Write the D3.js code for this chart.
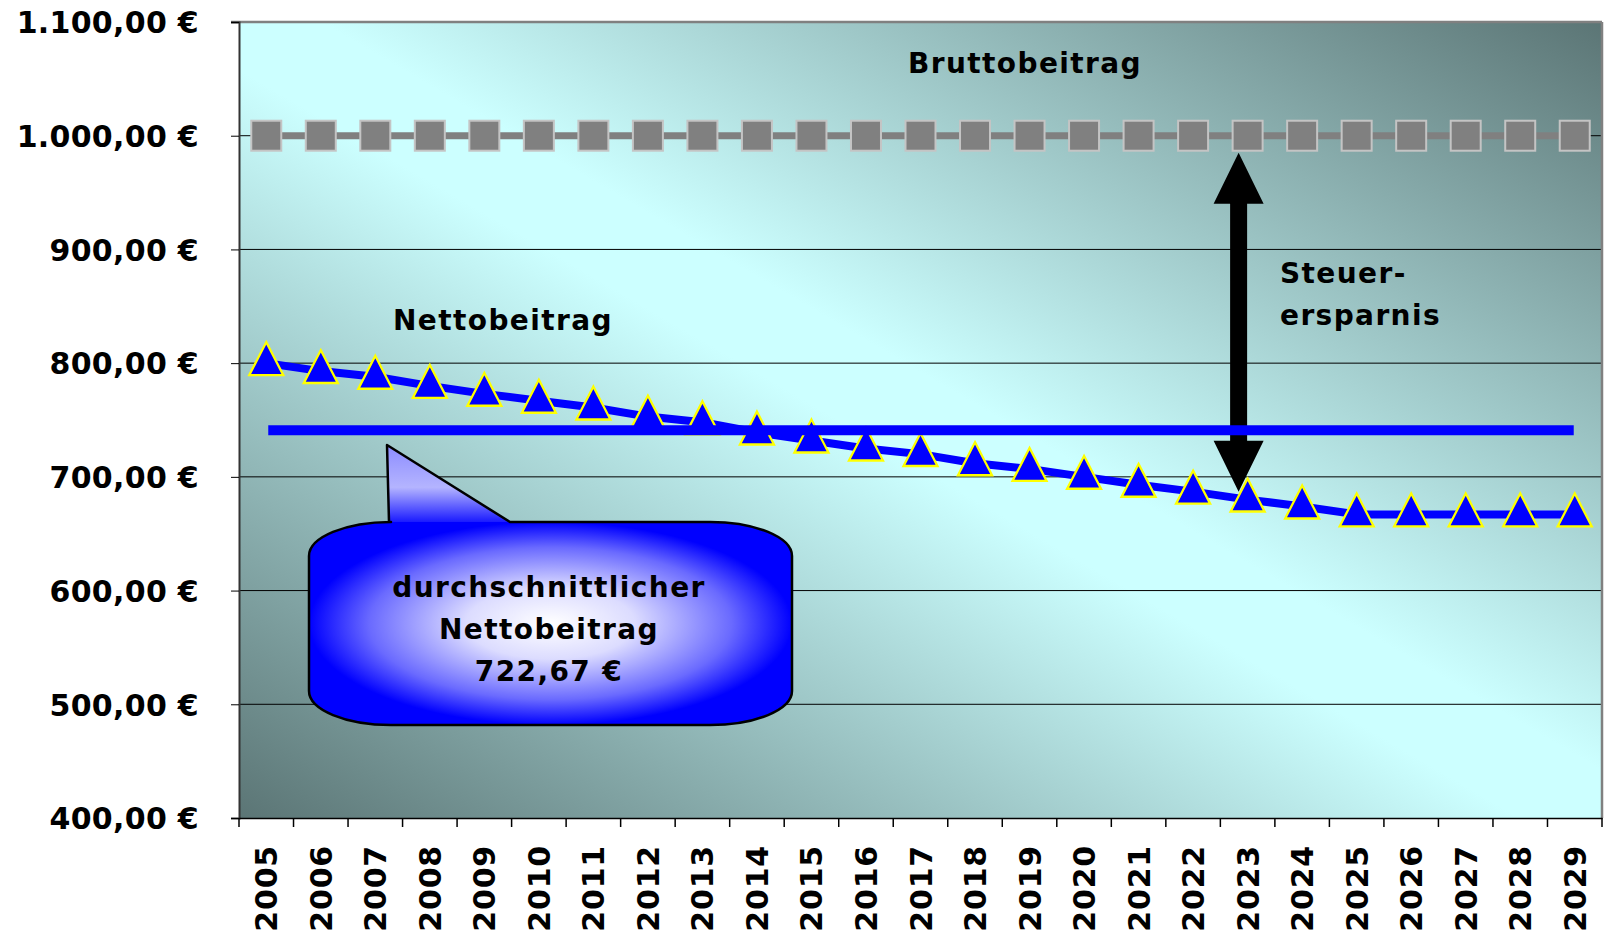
<!DOCTYPE html>
<html>
<head>
<meta charset="utf-8">
<script src="https://cdn.jsdelivr.net/npm/d3@7"></script>
<style>
  body { margin: 0; background: #ffffff; }
  svg, svg text { font-family: "DejaVu Sans", Verdana, sans-serif; font-weight: bold; }
</style>
</head>
<body>
<div id="chart"></div>
<script>

const years = ["2005","2006","2007","2008","2009","2010","2011","2012","2013","2014","2015","2016",
	"2017","2018","2019","2020","2021","2022","2023","2024","2025","2026","2027","2028","2029"];

const brutto = [1000,1000,1000,1000,1000,1000,1000,1000,1000,1000,1000,1000,
	1000,1000,1000,1000,1000,1000,1000,1000,1000,1000,1000,1000,1000];

const netto = [800,793,788,780,773,767,761,753,748,739,732,725,
	720,712,707,700,693,687,680,674,667,667,667,667,667];

const yTicks = [400,500,600,700,800,900,1000,1100];

// average shown in the bubble, and the level where the blue bar is actually drawn
const avgNetto = 722.67;
const avgLineLevel = 741;

// arrow "Steuerersparnis" runs between these two values
const arrowFrom = 985, arrowTo = 687;

const width = 1606, height = 937;
const plot = {left: 239, right: 1602, top: 22, bottom: 818};
const fontFamily = '"DejaVu Sans", Verdana, sans-serif';

const de = d3.formatLocale({decimal: ",", thousands: ".", grouping: [3], currency: ["", " €"]});
const euro = de.format("$,.2f");

const svg = d3.select("#chart").append("svg")
	.attr("width", width)
	.attr("height", height);

const defs = svg.append("defs");

const bg = defs.append("linearGradient")
	.attr("id", "bg")
	.attr("x1", 0).attr("y1", 1).attr("x2", 1).attr("y2", 0);
bg.append("stop").attr("offset", 0).attr("stop-color", "#5b7575");
bg.append("stop").attr("offset", 0.47).attr("stop-color", "#ccffff");
bg.append("stop").attr("offset", 0.53).attr("stop-color", "#ccffff");
bg.append("stop").attr("offset", 1).attr("stop-color", "#5b7575");

const bubble = defs.append("radialGradient")
	.attr("id", "bubble")
	.attr("cx", 0.5).attr("cy", 0.5).attr("r", 0.5);
bubble.append("stop").attr("offset", 0).attr("stop-color", "#ffffff");
bubble.append("stop").attr("offset", 0.35).attr("stop-color", "#dcdcff");
bubble.append("stop").attr("offset", 0.75).attr("stop-color", "#6a6aff");
bubble.append("stop").attr("offset", 1).attr("stop-color", "#0000ff");

const tail = defs.append("linearGradient")
	.attr("id", "tail")
	.attr("x1", 0).attr("y1", 0).attr("x2", 0).attr("y2", 1);
tail.append("stop").attr("offset", 0).attr("stop-color", "#8c8cff");
tail.append("stop").attr("offset", 0.55).attr("stop-color", "#b4b4ff");
tail.append("stop").attr("offset", 1).attr("stop-color", "#1a1aff");

const x = d3.scaleBand()
	.domain(years)
	.range([plot.left, plot.right])
	.padding(0);

const y = d3.scaleLinear()
	.domain([400, 1100])
	.range([plot.bottom, plot.top]);

const xc = (d) => x(d) + x.bandwidth() / 2;

// plot background
svg.append("rect")
	.attr("x", plot.left)
	.attr("y", plot.top)
	.attr("width", plot.right - plot.left)
	.attr("height", plot.bottom - plot.top)
	.style("fill", "url(#bg)");

// gridlines
svg.append("g")
	.selectAll("line")
	.data(yTicks.filter(d => d > 400 && d < 1100))
	.enter()
		.append("line")
		.attr("x1", plot.left).attr("x2", plot.right)
		.attr("y1", d => y(d)).attr("y2", d => y(d))
		.style("stroke", "#000000")
		.style("stroke-width", 1);

// frame
svg.append("line")
	.attr("x1", plot.left - 8).attr("x2", plot.right)
	.attr("y1", plot.top).attr("y2", plot.top)
	.style("stroke", "#808080").style("stroke-width", 2.5);
svg.append("line")
	.attr("x1", plot.right).attr("x2", plot.right)
	.attr("y1", plot.top).attr("y2", plot.bottom)
	.style("stroke", "#808080").style("stroke-width", 2.5);

// y axis
const yAxis = svg.append("g")
	.attr("transform", `translate(${plot.left},0)`)
	.call(d3.axisLeft(y).tickValues(yTicks).tickFormat(euro).tickSize(8).tickPadding(32))
	.attr("font-family", fontFamily);
yAxis.select(".domain").style("stroke", "#333333").style("stroke-width", 2);
yAxis.selectAll(".tick line").style("stroke", "#000000");
yAxis.selectAll("text")
	.attr("dy", "0.36em")
	.style("font-family", fontFamily)
	.style("font-size", "30px")
	.style("letter-spacing", "0.3px")
	.style("fill", "#000000");

// x axis: labels at centers, ticks on category borders
const xAxis = svg.append("g")
	.attr("transform", `translate(0,${plot.bottom})`)
	.call(d3.axisBottom(x).tickSize(0).tickSizeOuter(0))
	.attr("font-family", fontFamily);
xAxis.select(".domain").style("stroke", "#000000").style("stroke-width", 1.5);
xAxis.selectAll("text")
	.attr("transform", "rotate(-90)")
	.attr("x", -27)
	.attr("y", 11)
	.attr("dy", 0)
	.style("text-anchor", "end")
	.style("font-family", fontFamily)
	.style("font-size", "30px")
	.style("letter-spacing", "0.8px")
	.style("fill", "#000000");

xAxis.append("g")
	.selectAll("line")
	.data(years.map(d => x(d)).concat([x.range()[1]]))
	.enter()
		.append("line")
		.attr("x1", d => d).attr("x2", d => d)
		.attr("y1", 0).attr("y2", 9)
		.style("stroke", "#000000")
		.style("stroke-width", 1.5);

// Bruttobeitrag series
svg.append("path")
	.datum(brutto)
	.attr("d", d3.line().x((d, i) => xc(years[i])).y(d => y(d)))
	.style("fill", "none")
	.style("stroke", "#808080")
	.style("stroke-width", 7);

svg.append("g")
	.selectAll("rect")
	.data(brutto)
	.enter()
		.append("rect")
		.attr("x", (d, i) => xc(years[i]) - 15)
		.attr("y", d => y(d) - 15)
		.attr("width", 30)
		.attr("height", 30)
		.style("fill", "#808080")
		.style("stroke", "#c4c4c4")
		.style("stroke-width", 2);

// Nettobeitrag series
svg.append("path")
	.datum(netto)
	.attr("d", d3.line().x((d, i) => xc(years[i])).y(d => y(d)))
	.style("fill", "none")
	.style("stroke", "#0000ff")
	.style("stroke-width", 8)
	.style("stroke-linejoin", "round");

const tri = d3.symbol().type(d3.symbolTriangle).size(500);
svg.append("g")
	.selectAll("path")
	.data(netto)
	.enter()
		.append("path")
		.attr("d", tri)
		.attr("transform", (d, i) => `translate(${xc(years[i])},${y(d) + 1}) scale(1,1.12)`)
		.style("fill", "#0000ff")
		.style("stroke", "#ffff00")
		.style("stroke-width", 2.2);

// Steuerersparnis arrow
const ax = xc("2023") - 9;
const at = y(arrowFrom), ab = y(arrowTo);
const headL = 51, headW = 25, shaftW = 8.5;
svg.append("path")
	.attr("d", `M${ax},${at} L${ax + headW},${at + headL} L${ax + shaftW},${at + headL}
		L${ax + shaftW},${ab - headL} L${ax + headW},${ab - headL} L${ax},${ab}
		L${ax - headW},${ab - headL} L${ax - shaftW},${ab - headL} L${ax - shaftW},${at + headL}
		L${ax - headW},${at + headL} Z`)
	.style("fill", "#000000");

// average bar
svg.append("line")
	.attr("x1", xc(years[0]) + 2)
	.attr("x2", xc(years[years.length - 1]) - 1)
	.attr("y1", y(avgLineLevel))
	.attr("y2", y(avgLineLevel))
	.style("stroke", "#0000ff")
	.style("stroke-width", 10);

// callout bubble
const box = {x0: 309, x1: 792, y0: 522, y1: 725, rx: 82, ry: 34};
const tailPts = [[389, 522], [387, 445], [510, 522]];

svg.append("path")
	.attr("d", d3.line()(tailPts) + "Z")
	.style("fill", "url(#tail)");

svg.append("rect")
	.attr("x", box.x0).attr("y", box.y0)
	.attr("width", box.x1 - box.x0).attr("height", box.y1 - box.y0)
	.attr("rx", box.rx).attr("ry", box.ry)
	.style("fill", "url(#bubble)");

const outline = `M${tailPts[0][0]},${tailPts[0][1]} L${tailPts[1][0]},${tailPts[1][1]} L${tailPts[2][0]},${tailPts[2][1]}
	L${box.x1 - box.rx},${box.y0} A${box.rx},${box.ry} 0 0 1 ${box.x1},${box.y0 + box.ry}
	L${box.x1},${box.y1 - box.ry} A${box.rx},${box.ry} 0 0 1 ${box.x1 - box.rx},${box.y1}
	L${box.x0 + box.rx},${box.y1} A${box.rx},${box.ry} 0 0 1 ${box.x0},${box.y1 - box.ry}
	L${box.x0},${box.y0 + box.ry} A${box.rx},${box.ry} 0 0 1 ${box.x0 + box.rx},${box.y0} Z`;
svg.append("path")
	.attr("d", outline)
	.style("fill", "none")
	.style("stroke", "#000000")
	.style("stroke-width", 2.5)
	.style("stroke-linejoin", "round");

const bubbleText = svg.append("text")
	.attr("text-anchor", "middle")
	.style("font-size", "28px")
	.style("letter-spacing", "1.4px")
	.style("fill", "#000000");
["durchschnittlicher", "Nettobeitrag", euro(avgNetto)].forEach((t, i) => {
	bubbleText.append("tspan")
		.attr("x", 549)
		.attr("y", 597 + i * 42)
		.text(t);
});

// labels
const labels = [
	{text: "Bruttobeitrag", x: 1025, y: 73, anchor: "middle"},
	{text: "Nettobeitrag", x: 393, y: 330, anchor: "start"},
	{text: "Steuer-", x: 1280, y: 283, anchor: "start"},
	{text: "ersparnis", x: 1280, y: 325, anchor: "start"}
];
svg.append("g")
	.selectAll("text")
	.data(labels)
	.enter()
		.append("text")
		.attr("x", d => d.x)
		.attr("y", d => d.y)
		.attr("text-anchor", d => d.anchor)
		.style("font-size", "28px")
		.style("letter-spacing", "1.4px")
		.style("fill", "#000000")
		.text(d => d.text);

</script>
</body>
</html>
